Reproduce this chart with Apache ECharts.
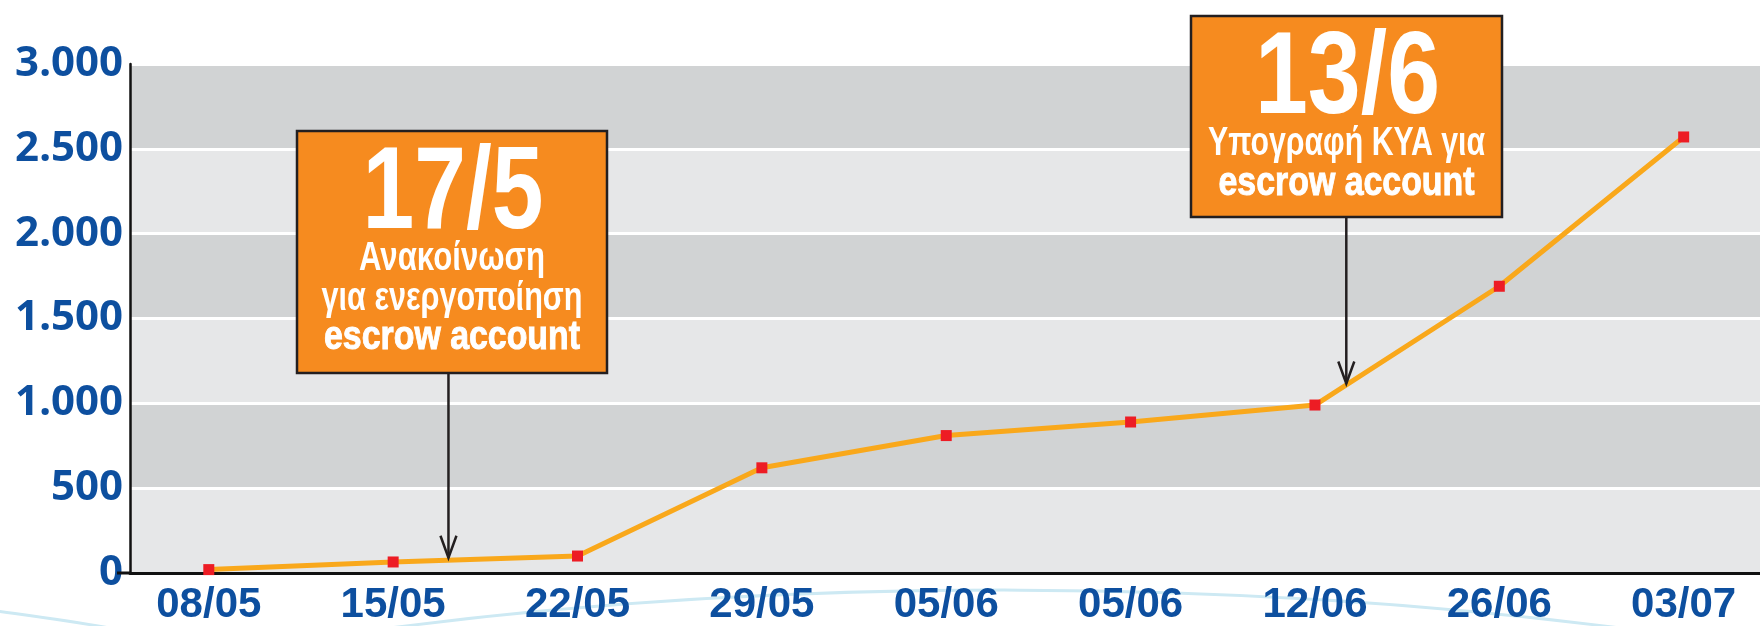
<!DOCTYPE html>
<html>
<head>
<meta charset="utf-8">
<script src="https://cdn.jsdelivr.net/npm/echarts@6/dist/echarts.min.js"></script>
<style>
html,body{margin:0;padding:0;background:#fff;}
#c{width:1760px;height:626px;}
</style>
</head>
<body>
<div id="c"></div>
<script>
// ---- data ----
const categories = ['08/05','15/05','22/05','29/05','05/06','05/06','12/06','26/06','03/07'];
const values = [20, 65, 100, 620, 810, 890, 990, 1690, 2570];
const note1Lines = ['17/5', 'Ανακοίνωση', 'για ενεργοποίηση', 'escrow account'];
const note2Lines = ['13/6', 'Υπογραφή ΚΥΑ για', 'escrow account'];
const note1At = [1.3, 90];     // 17/5, between 15/05 and 22/05
const note2At = [6.17, 1117];  // 13/6, right after 12/06

const SANS = "'Liberation Sans',Arial,sans-serif";
const BLUE = '#0d4f9f';

const chart = echarts.init(document.getElementById('c'));

function fmtThousands(v){
  return String(v).replace(/\B(?=(\d{3})+(?!\d))/g, '.');
}

const option = {
  animation: false,
  backgroundColor: '#ffffff',
  grid: { left: 130, right: 0, top: 64, bottom: 47.5, containLabel: false },
  xAxis: {
    type: 'value',
    min: -0.4274,
    max: 8.414,
    axisLine: { show: true, onZero: false, lineStyle: { color: '#111', width: 3 } },
    axisTick: { show: false },
    splitLine: { show: false },
    axisLabel: {
      customValues: categories.map((c, i) => i),
      formatter: (v) => categories[Math.round(v)] || '',
      color: BLUE,
      fontFamily: SANS,
      fontWeight: 'bold',
      fontSize: 42,
      margin: 11
    }
  },
  yAxis: {
    type: 'value',
    min: 0,
    max: 3000,
    interval: 500,
    axisLine: { show: true, onZero: false, lineStyle: { color: '#111', width: 2.5 } },
    axisTick: { show: false },
    axisLabel: {
      formatter: (v) => fmtThousands(v),
      color: BLUE,
      fontFamily: "'Noto Sans','Open Sans',sans-serif",
      fontWeight: 'bold',
      fontSize: 42,
      margin: 7
    },
    splitLine: { show: true, lineStyle: { color: '#ffffff', width: 3 } },
    splitArea: { show: true, areaStyle: { color: ['#e6e7e8', '#d1d3d4'] } }
  },
  series: [{
    type: 'line',
    data: values.map((v, i) => [i, v]),
    symbol: 'rect',
    symbolSize: 11,
    itemStyle: { color: '#ed1c24' },
    lineStyle: { color: '#f9a81b', width: 5 },
    z: 3
  }]
};
chart.setOption(option);

const mctx = document.createElement('canvas').getContext('2d');
function measure(text, font) { mctx.font = font; return mctx.measureText(text).width; }

function fitText(text, cx, baseline, size, heavy, targetW) {
  const font = 'bold ' + size + 'px ' + SANS;
  const w = measure(text, font);
  const s = targetW / w;
  const style = { text: text, x: 0, y: 0, align: 'center', verticalAlign: 'middle', fill: '#fff', font: font };
  if (heavy) { style.stroke = '#fff'; style.lineWidth = 1; }
  return {
    type: 'text', z: 11, silent: true,
    x: cx, y: baseline - 0.31 * size,
    scaleX: s, scaleY: 1,
    style: style
  };
}

function noteGraphic(box, lines, widths, at) {
  const [bx, by, bw, bh] = box;
  const cx = bx + bw / 2;
  const els = [];
  els.push({
    type: 'rect', z: 10, silent: true,
    shape: { x: bx, y: by, width: bw, height: bh },
    style: { fill: '#f68b1f', stroke: '#231f20', lineWidth: 2.5 }
  });
  els.push(fitText(lines[0], cx + 1, by + 101, 116, false, widths[0]));
  lines.slice(1).forEach((t, i) => {
    els.push(fitText(t, cx, by + 140.5 + i * 39.5, 41, t === 'escrow account', widths[i + 1]));
  });
  const p = chart.convertToPixel({ gridIndex: 0 }, at);
  const ax = p[0], tipY = p[1];
  els.push({
    type: 'polyline', z: 9, silent: true,
    shape: { points: [[ax, by + bh], [ax, tipY]] },
    style: { stroke: '#231f20', lineWidth: 2.5, fill: null }
  });
  els.push({
    type: 'polyline', z: 9, silent: true,
    shape: { points: [[ax - 8, tipY - 22], [ax, tipY], [ax + 8, tipY - 22]] },
    style: { stroke: '#231f20', lineWidth: 2.5, fill: null }
  });
  return els;
}

const origin = chart.convertToPixel({ gridIndex: 0 }, [-0.4274, 0]);

const graphics = [
  { type: 'bezierCurve', z: -1, silent: true,
    shape: { x1: -10, y1: 610, cpx1: 40, cpy1: 617, cpx2: 80, cpy2: 622, x2: 120, y2: 630 },
    style: { stroke: '#cde9f3', lineWidth: 3, fill: null } },
  { type: 'bezierCurve', z: -1, silent: true,
    shape: { x1: 390, y1: 628, cpx1: 800, cpy1: 575, cpx2: 1250, cpy2: 580, x2: 1620, y2: 628 },
    style: { stroke: '#cde9f3', lineWidth: 3, fill: null } },
  { type: 'line', z: 5, silent: true,
    shape: { x1: origin[0] - 13, y1: origin[1], x2: origin[0], y2: origin[1] },
    style: { stroke: '#111', lineWidth: 3 } }
]
  .concat(noteGraphic([297, 131, 310, 242], note1Lines, [181, 186, 261, 256], note1At))
  .concat(noteGraphic([1191, 16, 311, 201], note2Lines, [185, 277, 256], note2At));

chart.setOption({ graphic: { elements: graphics } });
</script>
</body>
</html>
